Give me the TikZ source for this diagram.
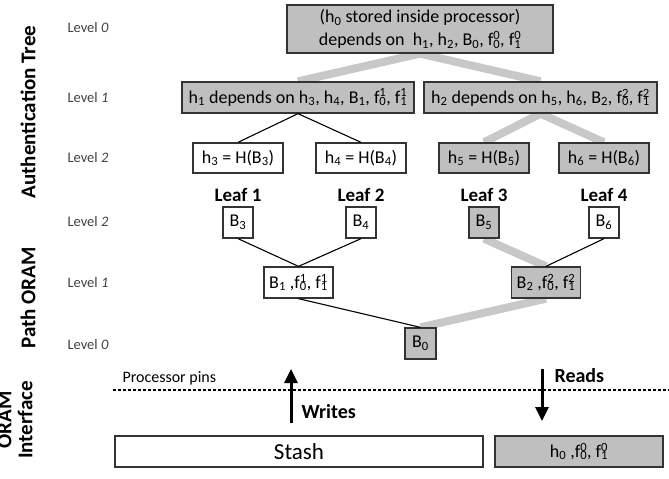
\documentclass[tikz,border=0pt]{standalone}
\usepackage{fontspec}
\setmainfont{Carlito}
\usetikzlibrary{arrows.meta,backgrounds}
\definecolor{boxgray}{HTML}{BFBFBF}
\definecolor{pathgray}{HTML}{C8C8C8}
\definecolor{edgec}{HTML}{333333}
\definecolor{lvlgray}{HTML}{404040}
\newcommand{\ff}[2]{f\rlap{\textsuperscript{#1}}\textsubscript{#2}}
\newcommand{\sbs}[1]{\textsubscript{#1}}
\begin{document}
\begin{tikzpicture}[x=1pt,y=-1pt,
  box/.style={draw=edgec, line width=1.3pt, inner sep=0pt, align=center, font=\fontsize{18}{23}\selectfont},
  gbox/.style={box, fill=boxgray},
  wbox/.style={box, fill=white},
  lvl/.style={anchor=west, text=lvlgray, font=\fontsize{14.5}{16}\selectfont},
  sect/.style={rotate=90, align=center, font=\bfseries\fontsize{21}{21}\selectfont},
  leaf/.style={font=\bfseries\fontsize{19}{22}\selectfont},
  thinline/.style={draw=black, line width=1.1pt},
  thickpath/.style={draw=pathgray, line width=8pt},
  bigarrow/.style={line width=3pt, -{Triangle[width=13pt,length=14pt]}},
]
\useasboundingbox (0,0) rectangle (669,479);
% section labels
\node[sect] (sa) at (28,112) {Authentication Tree};
\node[sect] (sp) at (28,298) {Path ORAM};
\node[sect] (si) at (15,420) {ORAM\\Interface};
% level labels
\node[lvl] (la0) at (64,28) {Level \textit{0}};
\node[lvl] (la1) at (64,98) {Level \textit{1}};
\node[lvl] (la2) at (64,158) {Level \textit{2}};
\node[lvl] (lp2) at (64,222) {Level \textit{2}};
\node[lvl] (lp1) at (64,283) {Level \textit{1}};
\node[lvl] (lp0) at (64,345) {Level \textit{0}};
% authentication tree
\node[gbox, minimum width=266pt, minimum height=48pt] (r) at (420,29)
  {(h\sbs{0} stored inside processor)\\depends on~ h\sbs{1}, h\sbs{2}, B\sbs{0}, \ff{0}{0}, \ff{0}{1}};
\node[gbox, minimum width=232pt, minimum height=31pt] (a1) at (298,97.5)
  {h\sbs{1} depends on h\sbs{3}, h\sbs{4}, B\sbs{1}, \ff{1}{0}, \ff{1}{1}};
\node[gbox, minimum width=233pt, minimum height=31pt] (a2) at (540.5,97.5)
  {h\sbs{2} depends on h\sbs{5}, h\sbs{6}, B\sbs{2}, \ff{2}{0}, \ff{2}{1}};
\node[wbox, minimum width=90pt, minimum height=30pt] (h3) at (238,158) {h\sbs{3} = H(B\sbs{3})};
\node[wbox, minimum width=90pt, minimum height=30pt] (h4) at (361,158) {h\sbs{4} = H(B\sbs{4})};
\node[gbox, minimum width=90pt, minimum height=30pt] (h5) at (484,158) {h\sbs{5} = H(B\sbs{5})};
\node[gbox, minimum width=90pt, minimum height=30pt] (h6) at (604,158) {h\sbs{6} = H(B\sbs{6})};
% leaf labels
\node[leaf] (lf1) at (238,195) {Leaf 1};
\node[leaf] (lf2) at (361,195) {Leaf 2};
\node[leaf] (lf3) at (484,195) {Leaf 3};
\node[leaf] (lf4) at (604,195) {Leaf 4};
% path ORAM
\node[wbox, minimum width=30pt, minimum height=31pt] (b3) at (238,222.5) {B\sbs{3}};
\node[wbox, minimum width=30pt, minimum height=31pt] (b4) at (361,222.5) {B\sbs{4}};
\node[gbox, minimum width=30pt, minimum height=31pt] (b5) at (484,222.5) {B\sbs{5}};
\node[wbox, minimum width=30pt, minimum height=31pt] (b6) at (604,222.5) {B\sbs{6}};
\node[wbox, minimum width=69pt, minimum height=31pt] (b1) at (298.5,282.5) {B\sbs{1} ,\ff{1}{0}, \ff{1}{1}};
\node[gbox, minimum width=69pt, minimum height=31pt] (b2) at (546,282.5) {B\sbs{2} ,\ff{2}{0}, \ff{2}{1}};
\node[gbox, minimum width=31pt, minimum height=31pt] (b0) at (420.5,343.5) {B\sbs{0}};
% connectors
\begin{scope}[on background layer]
\draw[thickpath] (r.south) -- (a1.north);
\draw[thickpath] (r.south) -- (a2.north);
\draw[thickpath] (a2.south) -- (h5.north);
\draw[thickpath] (a2.south) -- (h6.north);
\draw[thickpath] (b5.south) -- (b2.north);
\draw[thickpath] (b2.south) -- (b0.north);
\end{scope}
\draw[thinline] (a1.south) -- (h3.north);
\draw[thinline] (a1.south) -- (h4.north);
\draw[thinline] (b3.south) -- (b1.north);
\draw[thinline] (b4.south) -- (b1.north);
\draw[thinline] (b6.south) -- (b2.north);
\draw[thinline] (b1.south) -- (b0.north);
% interface
\coordinate (dl) at (113,390);
\coordinate (dr) at (669,390);
\draw[line width=1.5pt, dash pattern=on 3pt off 2pt] (dl) -- (dr);
\node[anchor=west, font=\fontsize{16}{18}\selectfont] (pp) at (119,378) {Processor pins};
\node[wbox, minimum width=368pt, minimum height=31pt, font=\fontsize{23}{26}\selectfont] (stash) at (299,451.5) {Stash};
\node[gbox, minimum width=168pt, minimum height=31pt] (h0) at (579,451.5) {h\sbs{0} ,\ff{0}{0}, \ff{0}{1}};
\coordinate (wb) at (291,423);
\coordinate (wt) at (291,369);
\draw[bigarrow] (wb) -- (wt);
\node[anchor=west, font=\bfseries\fontsize{20}{22}\selectfont] (wr) at (298,412) {Writes};
\coordinate (rt) at (542,369);
\coordinate (rb) at (542,421);
\draw[bigarrow] (rt) -- (rb);
\node[anchor=west, font=\bfseries\fontsize{20}{22}\selectfont] (rd) at (551,376) {Reads};
\end{tikzpicture}
\end{document}
